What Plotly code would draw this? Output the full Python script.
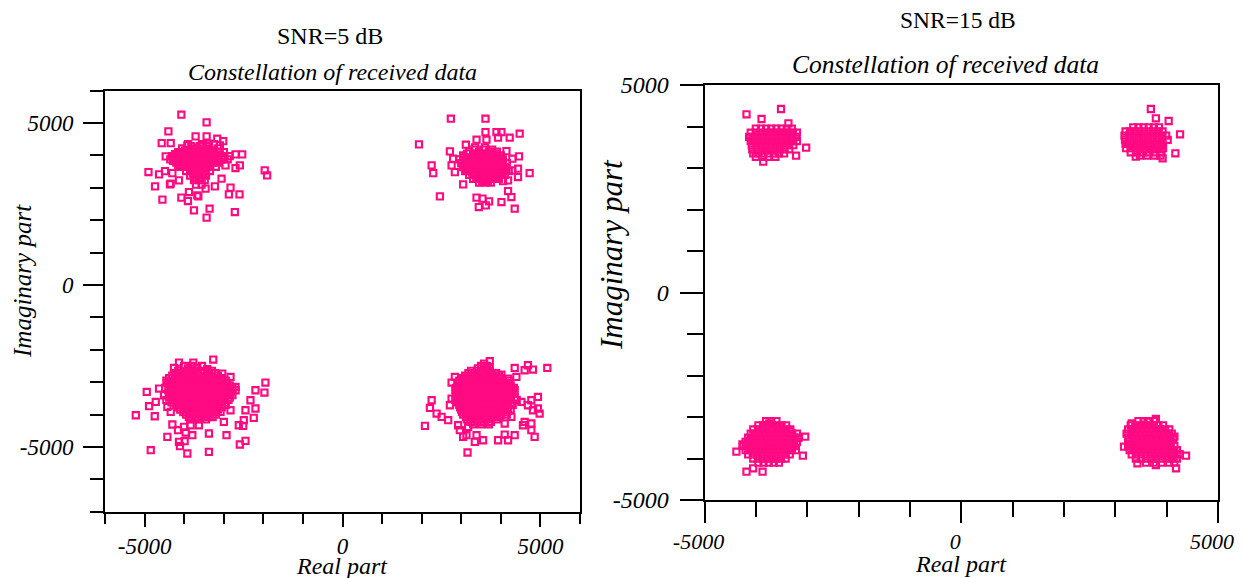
import plotly.graph_objects as go

# ---------------- SNR = 5 dB (left panel) ----------------
# scattered (outlying) received symbols
snr5_q2_x = [-4071, -3433, -4398, -4567, -4340, -3711, -3433, -3164, -3013, -4466, -4902, -4635, -4736, -4358,
             -4549, -4071, -3904, -3642, -3753, -3358, -3433, -2720, -2871, -2602, -2829, -2955, -2703, -2594,
             -2534, -2703, -1965, -1904, -3056, -3224, -3459, -4131, -4340, -4484, -4298, -3879, -3668, -2998,
             -3098, -3375, -3920]
snr5_q2_y = [5259, 5021, 4743, 4382, 4382, 4589, 4589, 4518, 4444, 3972, 3488, 3416, 3046, 3107,
             2635, 2697, 2592, 2737, 2305, 2357, 2080, 2253, 2799, 2799, 3006, 3694, 3611, 3694,
             4033, 4033, 3540, 3385, 3283, 3046, 2975, 3231, 3129, 3518, 3456, 2870, 2768, 4104,
             4311, 4364, 4311]
# dense core, row by row (y value, x values)
snr5_q2_core_y = [4350, 4290, 4220, 4160, 4100, 4040, 3980, 3930, 3880, 3830, 3780, 3710, 3650, 3580,
                  3520, 3450, 3380, 3310, 3240, 3100]
snr5_q2_core_x = [
    [-3900, -3550, -3250],
    [-3820, -3600, -3420],
    [-4050, -3800, -3650, -3400, -3150],
    [-3980, -3850, -3720, -3560, -3380],
    [-4150, -3950, -3750, -3600, -3450, -3300, -3100],
    [-4230, -4080, -3940, -3820, -3700, -3570, -3420, -3250],
    [-4300, -4150, -4000, -3880, -3760, -3640, -3520, -3380, -3220, -3050, -2850],
    [-4270, -4130, -4010, -3890, -3770, -3650, -3530, -3400, -3280, -3130, -2980],
    [-4350, -4200, -4080, -3950, -3830, -3710, -3590, -3470, -3350, -3200, -3050, -2900],
    [-4280, -4140, -4020, -3890, -3770, -3650, -3530, -3410, -3290, -3150],
    [-4200, -4050, -3900, -3780, -3660, -3540, -3420, -3280, -3120],
    [-4150, -3980, -3840, -3720, -3600, -3480, -3340],
    [-4100, -3900, -3760, -3640, -3520, -3380, -3200],
    [-3850, -3700, -3580, -3450],
    [-3950, -3780, -3650, -3520, -3350],
    [-3780, -3640, -3510],
    [-3850, -3700, -3580, -3450],
    [-3700, -3560],
    [-3750, -3620, -3480],
    [-3700, -3560],
]

snr5_q1_x = [2738, 3612, 1932, 3612, 3889, 4015, 4476, 3930, 4224, 3386, 3637, 3116, 2713, 4141, 4459, 4292,
             2252, 2292, 4728, 4434, 4434, 4292, 4141, 4182, 4056, 3048, 2461, 3386, 3537, 3703, 3443, 3620,
             4015, 4182, 4267, 4350, 2756, 2796, 2839, 3133, 3300]
snr5_q1_y = [5135, 5135, 4342, 4722, 4722, 4722, 4672, 4549, 4549, 4487, 4487, 4333, 4126, 4135, 3972, 3901,
             3694, 3456, 3456, 3592, 3333, 3540, 3540, 3231, 3209, 3107, 2737, 2697, 2666, 2583, 2407, 2460,
             2561, 2901, 2716, 2357, 3694, 3901, 3487, 3540, 4003]
snr5_q1_core_y = [4250, 4180, 4120, 4060, 4000, 3940, 3880, 3820, 3760, 3700, 3640, 3580, 3520, 3460,
                  3400, 3340, 3280, 3220, 3160]
snr5_q1_core_x = [
    [3350, 3600],
    [3330, 3560, 3780],
    [3200, 3450, 3700, 3900],
    [3150, 3400, 3580, 3730, 3900],
    [3050, 3300, 3500, 3650, 3800, 4000],
    [3050, 3250, 3420, 3540, 3660, 3780, 3950],
    [2950, 3150, 3350, 3480, 3600, 3720, 3850, 4050],
    [3100, 3280, 3410, 3530, 3650, 3770, 3890, 4050],
    [3000, 3200, 3350, 3470, 3590, 3710, 3830, 3950, 4150],
    [3130, 3290, 3420, 3540, 3660, 3780, 3900, 4030],
    [3050, 3220, 3360, 3480, 3600, 3720, 3840, 3960, 4100],
    [3170, 3320, 3460, 3580, 3700, 3820, 3940, 4080],
    [3100, 3250, 3400, 3520, 3640, 3760, 3880, 4000, 4200],
    [3280, 3420, 3540, 3660, 3780, 3920, 4040],
    [3200, 3350, 3480, 3600, 3720, 3850, 3980, 4100],
    [3380, 3520, 3640, 3770, 3900],
    [3300, 3450, 3580, 3700, 3830, 3950],
    [3530, 3680],
    [3450, 3600, 3750],
]

snr5_q3_x = [-3265, -4131, -4257, -3768, -3668, -3416, -3038, -2829, -2703, -1947, -2199, -1972, -4945, -4635,
             -4509, -4887, -4718, -5222, -4743, -4424, -4340, -2325, -2199, -2451, -2242, -2494, -2620, -2509,
             -2930, -3375, -2594, -2451, -4844, -3920, -3375, -4424, -4131, -4106, -3988, -4298, -4156, -3962,
             -3794, -3627, -3836, -4005, -3081, -2829, -2997, -4340, -4172]
snr5_q3_y = [-2302, -2395, -2561, -2395, -2561, -2601, -2734, -2839, -3148, -3012, -3250, -3321, -3302, -3197,
             -3404, -3743, -3611, -4021, -4052, -3765, -3919, -3558, -3814, -3867, -4104, -4175, -4330, -4351,
             -4638, -4586, -4925, -4814, -5101, -5203, -5154, -4691, -4845, -4978, -4823, -4308, -4484, -4555,
             -4638, -4330, -4330, -4382, -3919, -3867, -4228, -2993, -3197]
snr5_q3_core_y = [-2500, -2575, -2650, -2725, -2800, -2875, -2950, -3025, -3100, -3175, -3250, -3325,
                  -3400, -3475, -3550, -3625, -3700, -3775, -3850, -3925, -4000, -4075, -4150]
snr5_q3_core_x = [
    [-4000, -3800, -3550],
    [-3900, -3680],
    [-4150, -3950, -3750, -3500, -3300],
    [-4220, -4050, -3870, -3720, -3580, -3420, -3220],
    [-4300, -4120, -3950, -3800, -3650, -3500, -3350, -3150],
    [-4380, -4200, -4030, -3880, -3730, -3580, -3430, -3270, -3050],
    [-4450, -4250, -4100, -3950, -3820, -3690, -3560, -3430, -3300, -3150, -2950],
    [-4420, -4280, -4140, -4010, -3880, -3750, -3620, -3490, -3360, -3230, -3090, -2920],
    [-4350, -4200, -4070, -3940, -3810, -3680, -3550, -3420, -3290, -3160, -3020, -2850],
    [-4480, -4280, -4140, -4010, -3880, -3750, -3620, -3490, -3360, -3230, -3090, -2950, -2780],
    [-4400, -4250, -4120, -3990, -3860, -3730, -3600, -3470, -3340, -3210, -3080, -2900, -2700],
    [-4350, -4190, -4060, -3930, -3800, -3670, -3540, -3410, -3280, -3150, -3010, -2830],
    [-4300, -4150, -4020, -3890, -3760, -3630, -3500, -3370, -3240, -3110, -2950, -2780],
    [-4380, -4230, -4090, -3960, -3830, -3700, -3570, -3440, -3310, -3180, -3020, -2850],
    [-4450, -4250, -4100, -3970, -3840, -3710, -3580, -3450, -3320, -3190, -3050, -2880],
    [-4320, -4170, -4040, -3910, -3780, -3650, -3520, -3390, -3260, -3120, -2970],
    [-4200, -4050, -3920, -3790, -3660, -3530, -3400, -3270, -3130, -2950],
    [-4150, -4000, -3870, -3740, -3610, -3480, -3350, -3210, -3050],
    [-4100, -3950, -3820, -3690, -3560, -3430, -3300, -3150],
    [-4020, -3880, -3750, -3620, -3490, -3360, -3220],
    [-3950, -3800, -3650, -3500, -3350, -3200],
    [-3880, -3720, -3570, -3420, -3280],
    [-3850, -3650, -3450],
]

snr5_q4_x = [3721, 3577, 3612, 5174, 4350, 4685, 4811, 4602, 4393, 4182, 4015, 2839, 2756, 3048, 3260, 2252,
             2209, 2083, 2378, 2504, 2670, 2713, 2756, 4937, 4771, 4980, 4937, 4811, 4602, 4771, 4559, 4771,
             4854, 4350, 4098, 4182, 3930, 3343, 3552, 3386, 3133, 2965, 3048, 3159, 2922, 3174, 4098, 4267,
             4182, 4519, 4685, 4056, 4267]
snr5_q4_y = [-2355, -2426, -2601, -2561, -2561, -2478, -2611, -2632, -2839, -2889, -2765, -2839, -3012, -2941,
             -3043, -3558, -3796, -4351, -3969, -4073, -4175, -3713, -3506, -3456, -3558, -3969, -3814, -3867,
             -4228, -4277, -4330, -4484, -4691, -4638, -4617, -4793, -4793, -4845, -4793, -4638, -4638, -4484,
             -4691, -5172, -4330, -4382, -4277, -4073, -3867, -3611, -3713, -3250, -3197]
snr5_q4_core_y = [-2500, -2575, -2650, -2725, -2800, -2875, -2950, -3025, -3100, -3175, -3250, -3325,
                  -3400, -3475, -3550, -3625, -3700, -3775, -3850, -3925, -4000, -4075, -4150, -4225, -4300]
snr5_q4_core_x = [
    [3500, 3650],
    [3420, 3580, 3720],
    [3250, 3400, 3550, 3700],
    [3180, 3330, 3470, 3610, 3750, 3880],
    [3100, 3250, 3400, 3530, 3660, 3800, 3950],
    [3020, 3170, 3320, 3460, 3590, 3720, 3860, 4000],
    [2950, 3100, 3250, 3380, 3510, 3640, 3770, 3900, 4050, 4200],
    [2920, 3070, 3210, 3340, 3470, 3600, 3730, 3860, 3990, 4130],
    [2900, 3050, 3190, 3320, 3450, 3580, 3710, 3840, 3970, 4100, 4250],
    [2870, 3020, 3160, 3290, 3420, 3550, 3680, 3810, 3940, 4070, 4200, 4330],
    [2850, 3000, 3140, 3270, 3400, 3530, 3660, 3790, 3920, 4050, 4200, 4350],
    [2900, 3070, 3210, 3340, 3470, 3600, 3730, 3860, 3990, 4130, 4280],
    [2900, 3050, 3190, 3320, 3450, 3580, 3710, 3840, 3970, 4100, 4250],
    [2870, 3020, 3160, 3290, 3420, 3550, 3680, 3810, 3940, 4070, 4200, 4350],
    [2850, 3000, 3140, 3270, 3400, 3530, 3660, 3790, 3920, 4050, 4200, 4400],
    [2920, 3070, 3210, 3340, 3470, 3600, 3730, 3860, 3990, 4120, 4260],
    [2950, 3100, 3240, 3370, 3500, 3630, 3760, 3890, 4020, 4150, 4300],
    [2970, 3120, 3260, 3390, 3520, 3650, 3780, 3910, 4040, 4180],
    [3000, 3150, 3290, 3420, 3550, 3680, 3810, 3940, 4080, 4250],
    [3020, 3170, 3310, 3450, 3580, 3710, 3840, 3970, 4100],
    [3050, 3200, 3350, 3480, 3610, 3740, 3870, 4000, 4150],
    [3120, 3270, 3410, 3540, 3680, 3820, 3970],
    [3150, 3300, 3450, 3600, 3750, 3900],
    [3230, 3400, 3580, 3750],
    [3300, 3500, 3700],
]

# ---------------- SNR = 15 dB (right panel) ----------------
snr15_q2_x = [-4182, -3510, -3889, -3366, -3020, -3216, -3856]
snr15_q2_y = [4294, 4422, 4181, 4077, 3489, 3296, 3152]
snr15_q2_core_y = [3950, 3850, 3750, 3650, 3550, 3450, 3350, 3270]
snr15_q2_core_x = [
    [-4000, -3900, -3800, -3700, -3600, -3500, -3400, -3300],
    [-4100, -4000, -3910, -3820, -3730, -3640, -3550, -3460, -3370, -3280, -3200],
    [-4130, -4040, -3950, -3860, -3770, -3680, -3590, -3500, -3410, -3320, -3220],
    [-4100, -4010, -3920, -3830, -3740, -3650, -3560, -3470, -3380, -3290, -3200],
    [-4080, -3990, -3900, -3810, -3720, -3630, -3540, -3450, -3360, -3270],
    [-4070, -3980, -3890, -3800, -3710, -3620, -3530, -3440, -3350],
    [-4050, -3950, -3850, -3750, -3650, -3550, -3450],
    [-4000, -3880, -3760, -3620],
]

snr15_q1_x = [3692, 3790, 4039, 4261, 4170, 3398, 3922]
snr15_q1_y = [4422, 4198, 4133, 3812, 3354, 3272, 3234]
snr15_q1_core_y = [3980, 3880, 3780, 3680, 3580, 3480, 3380, 3300]
snr15_q1_core_x = [
    [3350, 3450, 3550, 3650, 3750, 3850],
    [3200, 3290, 3380, 3470, 3560, 3650, 3740, 3830, 3920],
    [3180, 3270, 3360, 3450, 3540, 3630, 3720, 3810, 3900, 3990],
    [3190, 3280, 3370, 3460, 3550, 3640, 3730, 3820, 3910, 4020],
    [3200, 3290, 3380, 3470, 3560, 3650, 3740, 3830, 3920],
    [3210, 3300, 3390, 3480, 3570, 3660, 3750, 3840, 3930],
    [3300, 3420, 3540, 3660, 3780, 3900],
    [3480, 3620, 3760, 3880],
]

snr15_q3_x = [-3039, -3085, -4379, -4261, -4151, -4182, -4053, -3869, -3739, -3543, -3333]
snr15_q3_y = [-3475, -3933, -3836, -3658, -3578, -4318, -4236, -4318, -3152, -3234, -3337]
snr15_q3_core_y = [-3100, -3200, -3300, -3400, -3500, -3600, -3700, -3800, -3900, -4000, -4100]
snr15_q3_core_x = [
    [-3800, -3700, -3600],
    [-3950, -3860, -3770, -3680, -3590, -3500, -3410],
    [-4050, -3960, -3870, -3780, -3690, -3600, -3510, -3420, -3330],
    [-4100, -4010, -3920, -3830, -3740, -3650, -3560, -3470, -3380, -3290, -3200],
    [-4150, -4060, -3970, -3880, -3790, -3700, -3610, -3520, -3430, -3340, -3250, -3170],
    [-4200, -4110, -4020, -3930, -3840, -3750, -3660, -3570, -3480, -3390, -3300, -3200],
    [-4250, -4160, -4070, -3980, -3890, -3800, -3710, -3620, -3530, -3440, -3350, -3250],
    [-4200, -4110, -4020, -3930, -3840, -3750, -3660, -3570, -3480, -3390, -3300, -3220],
    [-4150, -4060, -3970, -3880, -3790, -3700, -3610, -3520, -3430, -3340],
    [-4050, -3960, -3870, -3780, -3690, -3600, -3510, -3420],
    [-3950, -3850, -3750, -3650, -3550],
]

snr15_q4_x = [3790, 3627, 3320, 3170, 4151, 4378, 4249, 4118, 3431, 3790, 4183]
snr15_q4_y = [-3048, -3113, -3152, -3716, -3475, -3933, -3899, -3875, -4116, -4157, -4236]
snr15_q4_core_y = [-3100, -3200, -3300, -3400, -3500, -3600, -3700, -3800, -3900, -4000, -4100]
snr15_q4_core_x = [
    [3450, 3550, 3650, 3750],
    [3300, 3390, 3480, 3570, 3660, 3750, 3840, 3930],
    [3250, 3340, 3430, 3520, 3610, 3700, 3790, 3880, 3970, 4050],
    [3220, 3310, 3400, 3490, 3580, 3670, 3760, 3850, 3940, 4030, 4100],
    [3250, 3340, 3430, 3520, 3610, 3700, 3790, 3880, 3970, 4060, 4130],
    [3270, 3360, 3450, 3540, 3630, 3720, 3810, 3900, 3990, 4080],
    [3250, 3340, 3430, 3520, 3610, 3700, 3790, 3880, 3970, 4060, 4150],
    [3280, 3370, 3460, 3550, 3640, 3730, 3820, 3910, 4000, 4090, 4200],
    [3320, 3410, 3500, 3590, 3680, 3770, 3860, 3950, 4040, 4130, 4250],
    [3400, 3500, 3600, 3700, 3800, 3900, 4000, 4100, 4200],
    [3600, 3750, 3900, 4050, 4150],
]

# ---------------- axes / labels ----------------
major_vals = [-5000, 0, 5000]
major_text = ["-5000", "0", "5000"]
snr5_x_minor = [-6000, -4000, -3000, -2000, -1000, 1000, 2000, 3000, 4000, 6000]
snr5_y_minor = [-7000, -6000, -4000, -3000, -2000, -1000, 1000, 2000, 3000, 4000, 6000]
snr15_minor = [-4000, -3000, -2000, -1000, 1000, 2000, 3000, 4000]
panel_titles = ["SNR=5 dB", "SNR=15 dB"]
plot_title = "Constellation of received data"
x_title = "Real part"
y_title = "Imaginary part"

PINK = "#ff0a82"
SERIF = "Liberation Serif, Times New Roman, serif"


def collect(xs, ys, core_y, core_x):
    px, py = [], []
    for yv, row in zip(core_y, core_x):
        px += row
        py += [yv] * len(row)
    px += xs
    py += ys
    return px, py


def panel(clusters):
    X, Y = [], []
    for c in clusters:
        a, b = collect(*c)
        X += a
        Y += b
    return X, Y


left_x, left_y = panel([
    (snr5_q2_x, snr5_q2_y, snr5_q2_core_y, snr5_q2_core_x),
    (snr5_q1_x, snr5_q1_y, snr5_q1_core_y, snr5_q1_core_x),
    (snr5_q3_x, snr5_q3_y, snr5_q3_core_y, snr5_q3_core_x),
    (snr5_q4_x, snr5_q4_y, snr5_q4_core_y, snr5_q4_core_x),
])
right_x, right_y = panel([
    (snr15_q2_x, snr15_q2_y, snr15_q2_core_y, snr15_q2_core_x),
    (snr15_q1_x, snr15_q1_y, snr15_q1_core_y, snr15_q1_core_x),
    (snr15_q3_x, snr15_q3_y, snr15_q3_core_y, snr15_q3_core_x),
    (snr15_q4_x, snr15_q4_y, snr15_q4_core_y, snr15_q4_core_x),
])

marker = dict(symbol="square-open", size=6.2, color=PINK, line=dict(width=2.1, color=PINK))

fig = go.Figure()
fig.add_trace(go.Scatter(x=left_x, y=left_y, mode="markers", marker=marker,
                         xaxis="x", yaxis="y", showlegend=False, hoverinfo="x+y"))
fig.add_trace(go.Scatter(x=right_x, y=right_y, mode="markers", marker=marker,
                         xaxis="x2", yaxis="y2", showlegend=False, hoverinfo="x+y"))

# the page body adds an 8 px margin; positions below are given in window pixels
OFF = 8
W, H = 1243 - OFF, 578 - OFF


def fx(x):
    return (x - OFF) / W


def fy(y):
    return 1 - (y - OFF) / H


def axis(domain, rng, anchor, minor_vals, ticklen, minorlen, standoff, fsize, shift=0):
    return dict(
        domain=domain, range=rng, anchor=anchor, automargin=False,
        tickmode="array", tickvals=major_vals, ticktext=major_text,
        ticks="outside", ticklen=ticklen, tickwidth=2, tickcolor="black",
        minor=dict(tickmode="array", tickvals=minor_vals, ticks="outside",
                   ticklen=minorlen, tickwidth=2, tickcolor="black", showgrid=False),
        showline=True, linewidth=2, linecolor="black", mirror=True,
        showgrid=False, zeroline=False,
        tickfont=dict(family=SERIF, size=fsize, color="black", style="italic"),
        ticklabelstandoff=standoff, ticklabelshift=shift, fixedrange=True,
    )


fig.update_layout(
    template="none",
    width=W, height=H,
    margin=dict(l=0, r=0, t=0, b=0, pad=0, autoexpand=False),
    paper_bgcolor="white", plot_bgcolor="white",
    xaxis=axis([fx(105), fx(580)], [-6000, 6000], "y", snr5_x_minor, 13, 10, 0, 23),
    yaxis=axis([fy(511.7), fy(90.7)], [-7000, 6000], "x", snr5_y_minor, 20, 13, 5, 23),
    xaxis2=axis([fx(704.5), fx(1218)], [-5000, 5000], "y2", snr15_minor, 21, 15, 0, 22, -6),
    yaxis2=axis([fy(500), fy(85)], [-5000, 5000], "x2", snr15_minor, 23, 16, 6, 24),
)

ann = []


def text(x, y, s, size=23, italic=False, angle=0):
    ann.append(dict(x=fx(x), y=fy(y), xref="paper", yref="paper", text=(f"<i>{s}</i>" if italic else s),
                    showarrow=False, xanchor="center", yanchor="middle", textangle=angle,
                    font=dict(family=SERIF, size=size, color="black")))


text(330, 36, panel_titles[0], size=24)
text(332, 72, plot_title, italic=True, size=24)
text(958, 20, panel_titles[1], size=23.5)
text(945, 65, plot_title, italic=True, size=25.5)
text(342, 566, x_title, italic=True, size=24)
text(961, 564, x_title, italic=True, size=24)
text(23, 281, y_title, italic=True, size=25, angle=-90)
text(611, 255, y_title, italic=True, size=31, angle=-90)
fig.update_layout(annotations=ann)

fig.write_html("out.html")
